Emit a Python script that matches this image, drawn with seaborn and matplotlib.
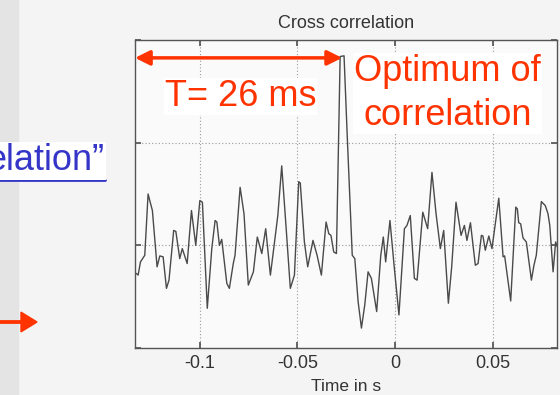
import numpy as np
import pandas as pd
import seaborn as sns
import matplotlib
matplotlib.use("Agg")
import matplotlib.pyplot as plt
from matplotlib.lines import Line2D
from matplotlib.patches import FancyArrow

# ---- data ----
time_s = [-0.1324, -0.1315, -0.1303, -0.1281, -0.1264, -0.1242, -0.1218, -0.1204,
          -0.1187, -0.1170, -0.1157, -0.1133, -0.1122, -0.1102, -0.1089, -0.1064,
          -0.1042, -0.1020, -0.0999, -0.0986, -0.0961, -0.0938, -0.0921, -0.0912,
          -0.0899, -0.0887, -0.0861, -0.0848, -0.0828, -0.0819, -0.0793, -0.0773,
          -0.0751, -0.0725, -0.0705, -0.0682, -0.0662, -0.0638, -0.0621, -0.0600,
          -0.0580, -0.0556, -0.0536, -0.0515, -0.0493, -0.0485, -0.0464, -0.0447,
          -0.0420, -0.0399, -0.0377, -0.0353, -0.0339, -0.0328, -0.0314, -0.0300,
          -0.0281, -0.0261, -0.0244, -0.0219, -0.0206, -0.0189, -0.0172, -0.0155,
          -0.0138, -0.0121, -0.0094, -0.0073, -0.0060, -0.0048, -0.0026, -0.0005,
          0.0020, 0.0048, 0.0061, 0.0078, 0.0099, 0.0113, 0.0142, 0.0167,
          0.0189, 0.0210, 0.0232, 0.0249, 0.0273, 0.0290, 0.0312, 0.0338,
          0.0355, 0.0368, 0.0386, 0.0411, 0.0425, 0.0442, 0.0450, 0.0462,
          0.0480, 0.0496, 0.0531, 0.0553, 0.0561, 0.0592, 0.0618, 0.0626,
          0.0633, 0.0643, 0.0655, 0.0672, 0.0698, 0.0711, 0.0723, 0.0749,
          0.0769, 0.0783, 0.0792, 0.0809, 0.0822, 0.0834]
correlation = [-0.274, -0.290, -0.161, -0.097, 0.500, 0.339, -0.209, -0.103,
               -0.112, -0.419, -0.339, 0.145, 0.136, -0.129, -0.032, -0.177,
               0.339, 0.000, 0.436, 0.420, -0.613, -0.032, 0.242, 0.227,
               0.000, 0.058, -0.371, -0.419, -0.177, -0.097, 0.565, 0.307,
               -0.387, -0.258, 0.081, -0.080, 0.162, -0.290, -0.032, 0.290,
               0.774, 0.130, -0.419, -0.290, 0.620, 0.607, 0.033, -0.209,
               0.048, -0.097, -0.290, 0.227, 0.113, 0.097, -0.064, -0.080,
               1.839, 1.846, 1.033, -0.097, -0.129, -0.548, -0.806, -0.581,
               -0.258, -0.322, -0.645, -0.097, 0.081, -0.161, 0.242, -0.194,
               -0.678, 0.162, 0.194, 0.290, -0.322, -0.339, 0.323, 0.162,
               0.711, 0.307, -0.032, 0.145, -0.564, -0.209, 0.420, 0.097,
               0.194, 0.048, 0.220, -0.194, -0.177, 0.097, 0.091, -0.048,
               0.091, -0.032, 0.459, -0.112, -0.103, -0.542, 0.372, 0.355,
               0.220, 0.210, 0.072, 0.033, -0.339, -0.194, -0.097, 0.426,
               0.387, 0.307, 0.194, -0.258, 0.033, -0.032]
x_ticks = [-0.1, -0.05, 0, 0.05]
x_tick_labels = ["-0.1", "-0.05", "0", "0.05"]
y_ticks = [-1, 0, 1, 2]
title = "Cross correlation"
x_label = "Time in s"
lag_label = "T= 26 ms"
peak_label = "Optimum of\ncorrelation"
slide_text = "elation\u201d"

df = pd.DataFrame({"t": time_s, "c": correlation})

sns.set_theme(style="white")
plt.rcParams["font.family"] = ["Liberation Sans", "DejaVu Sans"]
plt.rcParams["axes.unicode_minus"] = False

W, H = 560, 395
fig = plt.figure(figsize=(W / 100, H / 100), dpi=100, facecolor="#f4f4f4")
RED = "#ff3300"

def fx(px):
    return px / W

def fy(py):
    return 1 - py / H

# slide decorations on the left
fig.add_artist(plt.Rectangle((0, 0), fx(18), 1, transform=fig.transFigure,
                             color="#e4e4e4", zorder=0))
fig.text(fx(105), fy(161), slide_text, ha="right", va="center", fontsize=26,
         color="#3535c8",
         bbox=dict(facecolor="white", edgecolor="none", pad=1))
fig.add_artist(Line2D([0, fx(105)], [fy(180), fy(180)], transform=fig.transFigure,
                      color="#3535c8", lw=2))
fig.add_artist(FancyArrow(0, fy(322), fx(37), 0, width=0.006, head_width=0.05,
                          head_length=fx(16), length_includes_head=True,
                          transform=fig.transFigure, color=RED))

ax = fig.add_axes([fx(135), fy(348), fx(557 - 135), fy(40) - fy(348)])
ax.set_facecolor("#fafafa")
sns.lineplot(data=df, x="t", y="c", ax=ax, color="#4a4a4a", lw=1.0)

ax.set_xlim(-0.1331, 0.0829)
ax.set_ylim(-1, 2)
ax.set_xticks(x_ticks)
ax.set_xticklabels(x_tick_labels)
ax.set_yticks(y_ticks)
ax.set_yticklabels([])
ax.grid(True, linestyle=(0, (1, 2)), color="#9a9a9a", lw=0.8)
ax.tick_params(axis="both", direction="in", length=4, color="#555555",
               top=True, right=True, left=True, bottom=True,
               labelsize=13, labelcolor="#333333", pad=5)
for s in ax.spines.values():
    s.set_color("#555555")
    s.set_linewidth(1.0)
ax.set_xlabel(x_label, fontsize=12.5, color="#333333", labelpad=5)
ax.set_ylabel("")
ax.set_title(title, fontsize=13, color="#333333", pad=9)

# annotations derived from data
i_peak = int(np.argmax(correlation))
t_peak = 0.5 * (time_s[i_peak] + time_s[i_peak - 1])
v_peak = correlation[i_peak]
ax.annotate("", xy=(t_peak, v_peak - 0.02), xytext=(ax.get_xlim()[0], v_peak - 0.02),
            arrowprops=dict(arrowstyle="<|-|>", color=RED, lw=2.5,
                            mutation_scale=22, shrinkA=0, shrinkB=0))
fig.text(fx(240.5), fy(96.5), lag_label, ha="center", va="center", fontsize=26,
         color=RED, bbox=dict(facecolor="white", edgecolor="none", pad=0.5))
fig.text(fx(447.5), fy(93.5), peak_label, ha="center", va="center", fontsize=26,
         color=RED, linespacing=1.33,
         bbox=dict(facecolor="white", edgecolor="none", pad=0.5))

fig.savefig("out.png", dpi=100, facecolor=fig.get_facecolor())
